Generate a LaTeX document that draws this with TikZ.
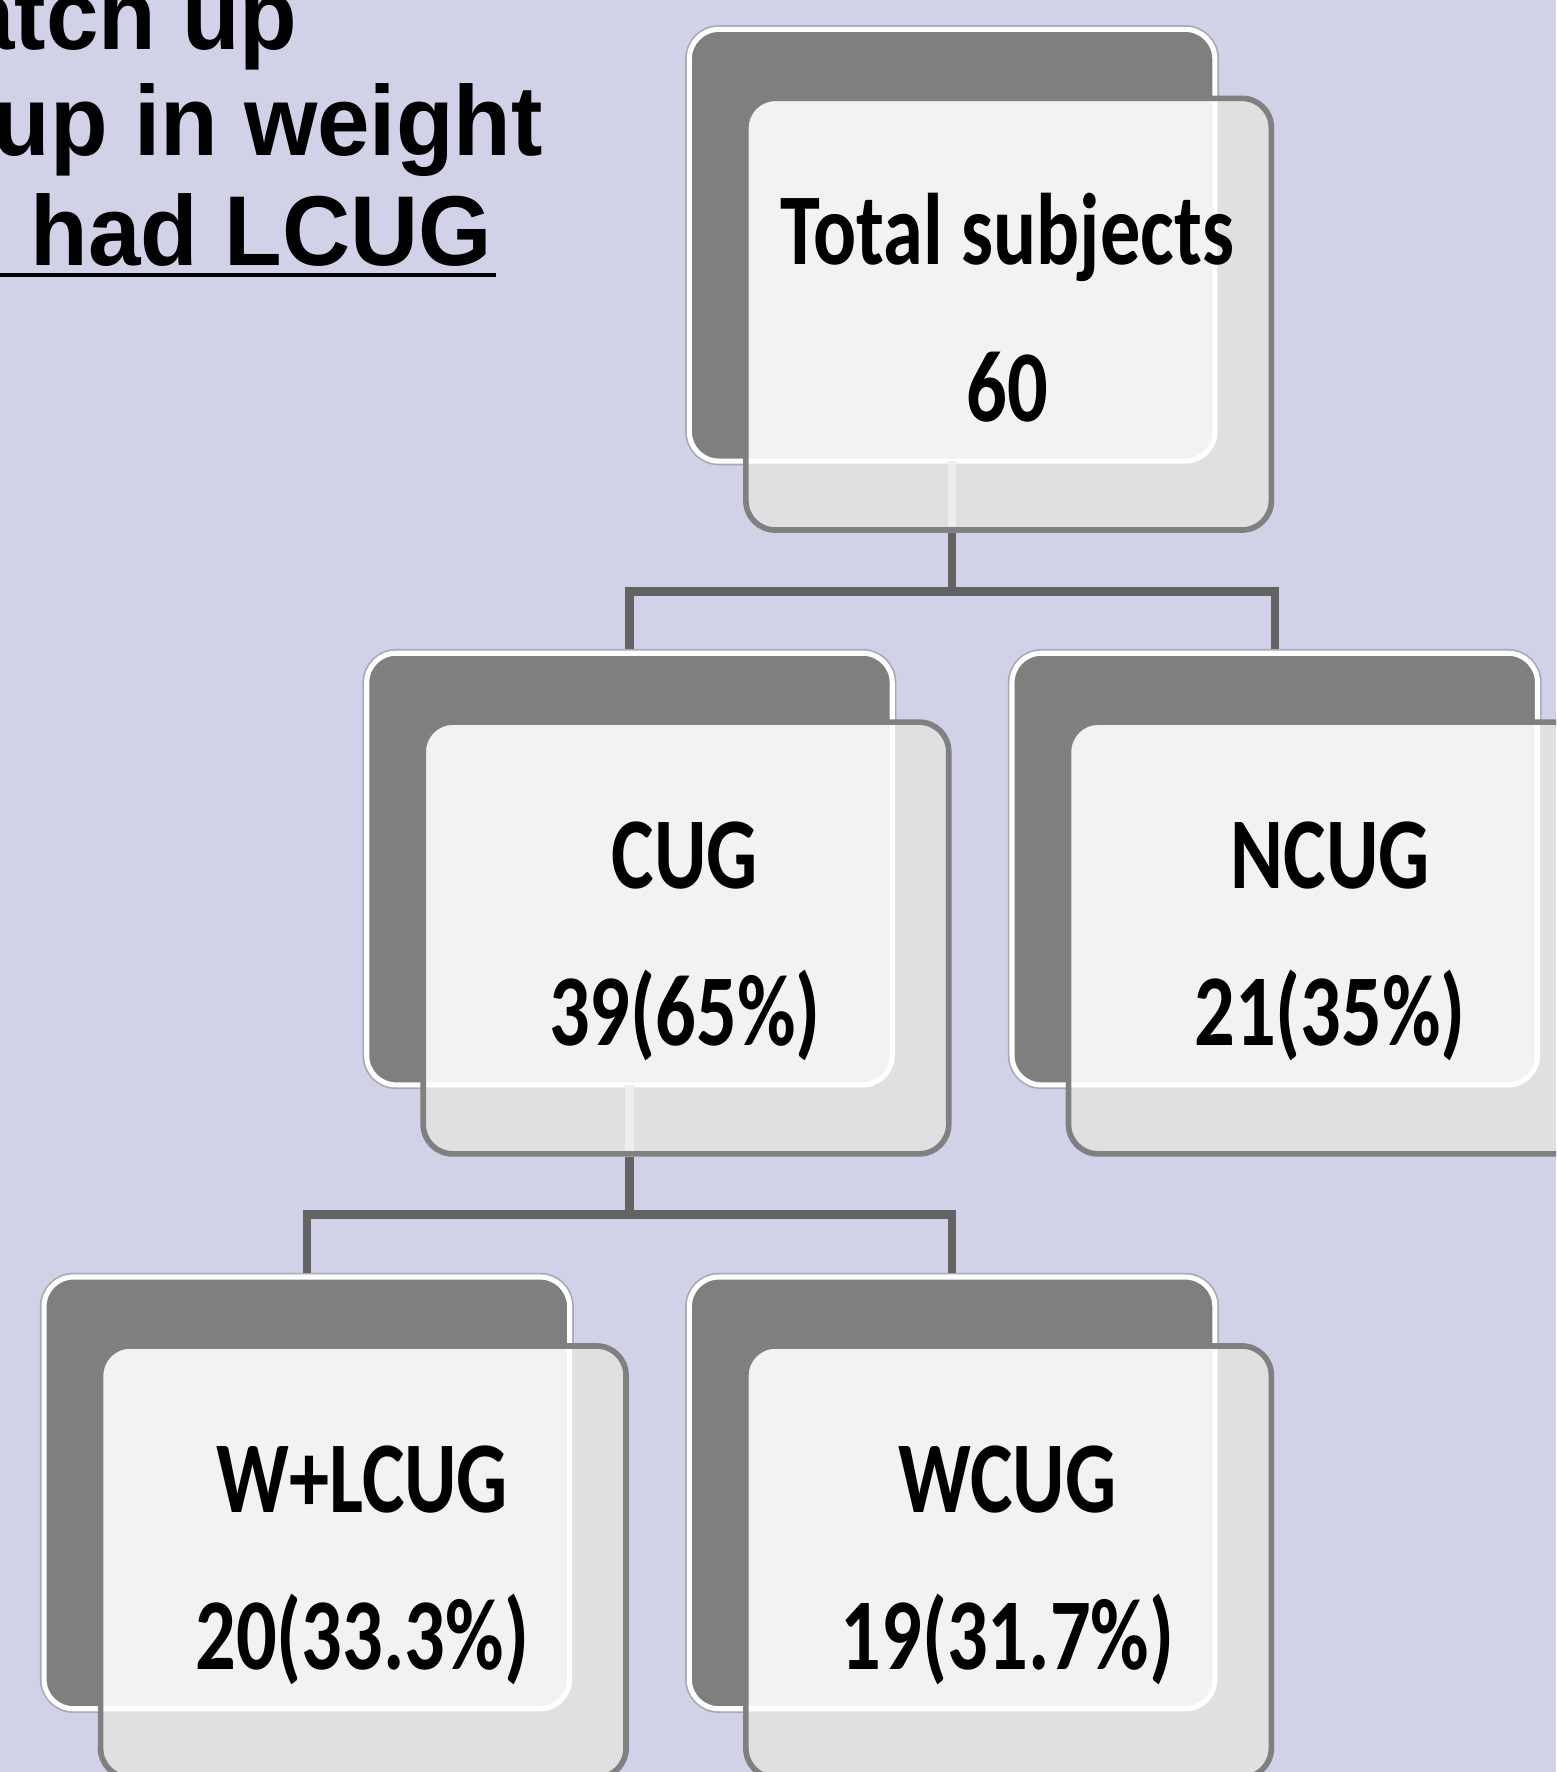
\documentclass[tikz,border=0pt]{standalone}
\usepackage{fontspec}
\newfontfamily\boxfont[FakeStretch=0.79]{Carlito Bold}
\newfontfamily\titlefont[FakeStretch=0.95]{Liberation Sans Bold}
\definecolor{bgc}{RGB}{209,209,231}
\definecolor{darkc}{RGB}{127,127,127}
\definecolor{outlc}{RGB}{168,168,184}
\definecolor{frontc}{RGB}{224,224,226}
\definecolor{overc}{RGB}{242,242,242}
\definecolor{edgec}{RGB}{128,128,128}
\definecolor{connc}{RGB}{99,99,99}
\definecolor{faintc}{RGB}{238,238,238}
\tikzset{
  backbox/.style={rectangle, inner sep=0pt, outer sep=0pt, minimum width=46.5mm, minimum height=38.2mm,
    rounded corners=2.6mm, fill=darkc, draw=white, line width=0.45mm,
    preaction={draw=outlc, line width=0.75mm}},
  frontfill/.style={rectangle, inner sep=0pt, outer sep=0pt, minimum width=46.5mm, minimum height=38.2mm,
    rounded corners=2.6mm, fill=frontc},
  frontedge/.style={draw=edgec, line width=0.5mm, rounded corners=2.6mm},
  boxtxt/.style={anchor=base, inner sep=0pt, font=\boxfont\fontsize{25.6pt}{30pt}\selectfont},
  titletxt/.style={anchor=base east, inner sep=0pt, font=\titlefont\fontsize{25pt}{30pt}\selectfont},
  conn/.style={draw=connc, line width=0.75mm},
  faintline/.style={draw=faintc, line width=0.75mm}
}
\newcommand{\orgbox}[5]{%
  \begin{scope}[shift={(#2,#3)}]
    \node[backbox, anchor=north west] (#1b) at (4,4) {};
    \node[frontfill, anchor=north west] (#1f) at (54,65) {};
    \begin{scope}
      \clip[rounded corners=2.6mm] (#1f.north west) rectangle (#1f.south east);
      \fill[overc, rounded corners=2.6mm] (#1b.north west) rectangle (#1b.south east);
      \draw[white, line width=0.45mm, rounded corners=2.6mm] (#1b.north west) rectangle (#1b.south east);
    \end{scope}
    \draw[frontedge] (#1f.north west) rectangle (#1f.south east);
    \node[boxtxt] (#1t1) at (285.5,212) {#4};
    \node[boxtxt] (#1t2) at (285.5,351) {#5};
  \end{scope}}
\begin{document}
\begin{tikzpicture}[x=0.1mm, y=-0.1mm]
\useasboundingbox (0,0) rectangle (1377,1568);
\clip (0,0) rectangle (1377,1568);
\fill[bgc] (0,0) rectangle (1377,1568);

% title (partly cut off at the left edge)
\node[titletxt] (tl1) at (264,44) {atch up};
\node[titletxt] (tl2) at (481,138) {up in weight};
\node[titletxt] (tl3) at (436,234.5) {had LCUG};
\draw[line width=0.35mm] (0,243.5) -- (439,243.5);

% boxes
\orgbox{tot}{606}{22}{Total subjects}{60}
\orgbox{cug}{320.5}{574}{CUG}{39(65\%)}
\orgbox{ncug}{891.5}{574}{NCUG}{21(35\%)}
\orgbox{wl}{35}{1126}{W+LCUG}{20(33.3\%)}
\orgbox{wc}{606}{1126}{WCUG}{19(31.7\%)}

% connectors
\path (0,523.5) coordinate (h1) (0,1074.5) coordinate (h2);
\coordinate (j1) at (totb.south |- h1);
\coordinate (j2) at (cugb.south |- h2);
\draw[faintline, shorten >=0.25mm] (totb.south) -- (totf.south -| totb.south);
\draw[faintline, shorten >=0.25mm] (cugb.south) -- (cugf.south -| cugb.south);
\draw[conn, shorten <=0.25mm] (totf.south -| totb.south) -- (j1);
\draw[conn, shorten <=0.35mm, shorten >=0.35mm] (cugb.north) |- (j1) -| (ncugb.north);
\draw[conn, shorten <=0.25mm] (cugf.south -| cugb.south) -- (j2);
\draw[conn, shorten <=0.35mm, shorten >=0.35mm] (wlb.north) |- (j2) -| (wcb.north);
\end{tikzpicture}
\end{document}
